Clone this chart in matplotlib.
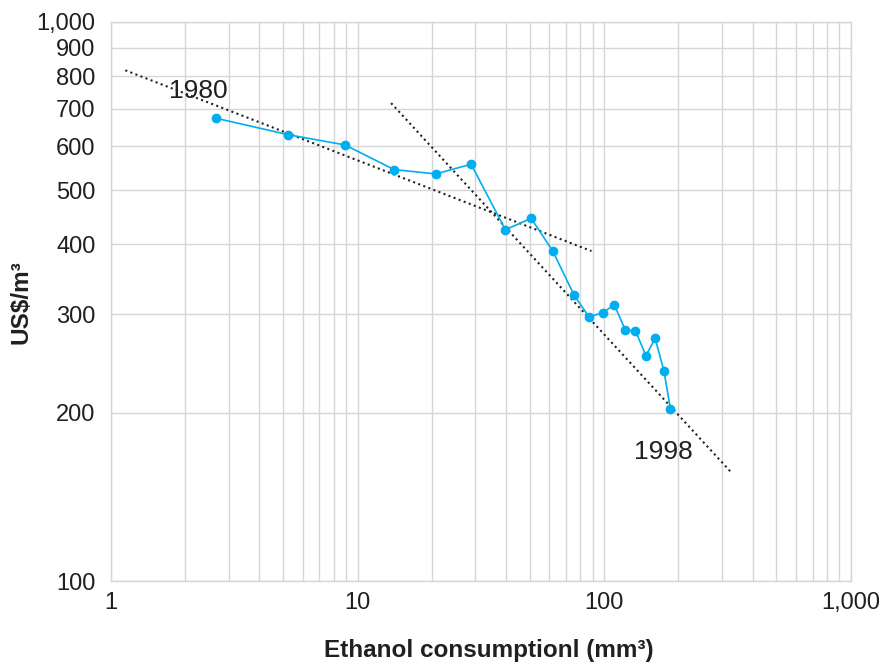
import numpy as np
import matplotlib
matplotlib.use("Agg")
from matplotlib import pyplot as plt
from matplotlib.ticker import FixedLocator, FuncFormatter, NullFormatter

plt.rcParams["font.family"] = ["Liberation Sans", "DejaVu Sans"]

# ethanol consumption (mm3) vs price (US$/m3), 1980 -> 1998
consumption = [2.67, 5.24, 8.9, 14.06, 20.76, 28.87, 39.78, 50.6, 61.9, 75.6,
               86.9, 98.6, 110.1, 122.0, 134.0, 147.7, 161.0, 174.7, 185.8]
price = [672.6, 628.6, 602.6, 544.5, 534.9, 556.6, 425.0, 445.5, 389.3, 324.4,
         296.7, 302.2, 311.7, 280.8, 280.3, 253.0, 271.7, 237.8, 203.0]

# dotted learning-curve trend lines (end points)
trend1_x = [1.143, 88.8]
trend1_y = [819.6, 389.3]
trend2_x = [13.68, 324.5]
trend2_y = [716.0, 157.2]

y_ticks = [100, 200, 300, 400, 500, 600, 700, 800, 900, 1000]
x_ticks = [1, 10, 100, 1000]

txt = "#231f20"
grid_col = "#d6d6d6"

fig = plt.figure(figsize=(8.88, 6.66), dpi=100)
ax = fig.add_axes([0.125, 0.1275, 0.833, 0.8395])

ax.set_xscale("log")
ax.set_yscale("log")
ax.set_xlim(1, 1000)
ax.set_ylim(100, 1000)

ax.plot(trend1_x, trend1_y, color="#222222", ls=(0, (1, 1.6)), lw=1.5, zorder=3)
ax.plot(trend2_x, trend2_y, color="#222222", ls=(0, (1, 1.6)), lw=1.5, zorder=3)
ax.plot(consumption, price, color="#00aeef", lw=1.2, marker="o", ms=6, zorder=4)

ax.text(2.254, 752, "1980", fontsize=19, color=txt, ha="center", va="center")
ax.text(173.5, 170, "1998", fontsize=19, color=txt, ha="center", va="center")

fmt = FuncFormatter(lambda v, p: "{:,.0f}".format(v))
ax.yaxis.set_major_locator(FixedLocator(y_ticks))
ax.yaxis.set_major_formatter(fmt)
ax.yaxis.set_minor_locator(FixedLocator([]))
ax.yaxis.set_minor_formatter(NullFormatter())
ax.xaxis.set_major_locator(FixedLocator(x_ticks))
ax.xaxis.set_major_formatter(fmt)
ax.xaxis.set_minor_locator(FixedLocator([m * d for d in [1, 10, 100] for m in range(2, 10)]))
ax.xaxis.set_minor_formatter(NullFormatter())

ax.grid(True, which="both", color=grid_col, lw=1)
ax.set_axisbelow(True)
for s in ax.spines.values():
    s.set_color(grid_col)
    s.set_linewidth(1)

ax.tick_params(which="both", length=0, labelsize=17, labelcolor=txt)
ax.tick_params(axis="y", pad=11)
ax.tick_params(axis="x", pad=8)

ax.set_xlabel("Ethanol consumptionl (mm³)", fontsize=17.5, fontweight="bold", color=txt, va="center")
ax.xaxis.set_label_coords(0.511, -0.125)
ax.set_ylabel("US$/m³", fontsize=17.5, fontweight="bold", color=txt, va="center")
ax.yaxis.set_label_coords(-0.122, 0.499)

fig.savefig("out.png", dpi=100)
